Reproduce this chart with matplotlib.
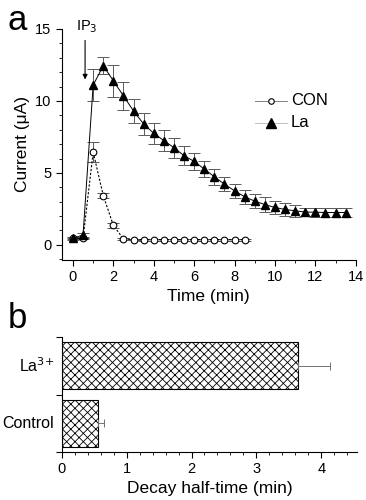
import numpy as np
import matplotlib.pyplot as plt
from matplotlib.ticker import MultipleLocator

plt.rcParams['font.family'] = ['Liberation Sans', 'DejaVu Sans']
plt.rcParams['hatch.linewidth'] = 0.6

# --- panel a: current traces ---
time_la = [0, 0.5, 1, 1.5, 2, 2.5, 3, 3.5, 4, 4.5, 5, 5.5, 6, 6.5, 7, 7.5,
           8, 8.5, 9, 9.5, 10, 10.5, 11, 11.5, 12, 12.5, 13, 13.5]
current_la = [0.45, 0.7, 11.1, 12.45, 11.4, 10.35, 9.3, 8.4, 7.75, 7.25, 6.75,
              6.2, 5.8, 5.27, 4.73, 4.22, 3.76, 3.34, 3.04, 2.8, 2.6, 2.46,
              2.37, 2.28, 2.27, 2.25, 2.25, 2.25]
err_la = [0.1, 0.15, 1.1, 0.6, 1.1, 1.0, 0.85, 0.75, 0.75, 0.7, 0.7, 0.65,
          0.6, 0.55, 0.55, 0.5, 0.5, 0.5, 0.5, 0.5, 0.45, 0.45, 0.4, 0.3,
          0.3, 0.3, 0.3, 0.3]

time_con = [0, 0.5, 1, 1.5, 2, 2.5, 3, 3.5, 4, 4.5, 5, 5.5, 6, 6.5, 7, 7.5,
            8, 8.5]
current_con = [0.45, 0.45, 6.45, 3.43, 1.35, 0.42, 0.37, 0.36, 0.36, 0.36,
               0.36, 0.36, 0.36, 0.36, 0.36, 0.36, 0.36, 0.36]
err_con = [0.05, 0.05, 0.7, 0.2, 0.15, 0.08, 0.06, 0.06, 0.06, 0.06, 0.06,
           0.06, 0.06, 0.06, 0.06, 0.06, 0.06, 0.06]

# --- panel b: decay half-time ---
groups = ['Control', 'La$^{3{+}}$']
half_time = [0.56, 3.64]
half_err = [0.09, 0.5]

fig = plt.figure(figsize=(3.66, 5.0), dpi=100)
ax1 = fig.add_axes([0.169, 0.48, 0.803, 0.462])
ax2 = fig.add_axes([0.169, 0.096, 0.806, 0.23])

# panel a
ax1.errorbar(time_con, current_con, yerr=err_con, fmt='none', ecolor='0.35',
             elinewidth=0.7, capsize=4, capthick=0.7, zorder=2)
ax1.errorbar(time_la, current_la, yerr=err_la, fmt='none', ecolor='0.35',
             elinewidth=0.7, capsize=4, capthick=0.7, zorder=2)
ax1.plot(time_con, current_con, color='black', lw=0.8, ls=(0, (2, 1.5)),
         marker='o', ms=4.8, mfc='white', mec='black', mew=0.8, zorder=3)
ax1.plot(time_la, current_la, color='black', lw=0.7,
         marker='^', ms=6.2, mfc='black', mec='black', zorder=4)

# legend drawn by hand to match the reference style
ax1.plot([9.0, 10.6], [10.0, 10.0], color='0.5', lw=0.7)
ax1.plot([9.8], [10.0], marker='o', ms=4, mfc='white', mec='black', mew=0.8)
ax1.text(10.8, 10.0, 'CON', fontsize=12, va='center', ha='left')
ax1.plot([9.0, 10.6], [8.5, 8.5], color='0.75', lw=0.7)
ax1.plot([9.8], [8.5], marker='^', ms=6.5, mfc='black', mec='black')
ax1.text(10.8, 8.5, 'La', fontsize=12, va='center', ha='left')

ax1.annotate('', xy=(0.6, 11.3), xytext=(0.6, 14.4),
             arrowprops=dict(arrowstyle='-|>', color='black', lw=0.8,
                             mutation_scale=7))
ax1.text(0.7, 14.6, 'IP$_3$', fontsize=10.5, ha='center', va='bottom')

ax1.set_xlim(-0.55, 14)
ax1.set_ylim(-1.05, 15)
ax1.spines['top'].set_visible(False)
ax1.spines['right'].set_visible(False)
ax1.xaxis.set_major_locator(MultipleLocator(2))
ax1.xaxis.set_minor_locator(MultipleLocator(1))
ax1.yaxis.set_major_locator(MultipleLocator(5))
ax1.yaxis.set_minor_locator(MultipleLocator(1))
ax1.tick_params(which='major', length=4, width=0.8, labelsize=10.5)
ax1.tick_params(which='minor', length=2.5, width=0.6)
ax1.set_xlabel('Time (min)', fontsize=12.5, labelpad=3)
ax1.set_ylabel('Current (\u03bcA)', fontsize=12.5, labelpad=4)
fig.text(0.02, 0.94, 'a', fontsize=25)

# panel b
ypos = np.arange(len(groups))
ax2.barh(ypos, half_time, height=0.82, color='white', edgecolor='black',
         linewidth=0.8, hatch='xxxx')
ax2.errorbar(half_time, ypos, xerr=[[0] * len(half_err), half_err],
             fmt='none', ecolor='0.45', elinewidth=0.7, capsize=3,
             capthick=0.7)
ax2.set_xlim(0, 4.55)
ax2.set_ylim(-0.5, 1.5)
ax2.set_yticks([-0.5, 0.5, 1.5])
ax2.set_yticklabels([])
for y, g in zip(ypos, groups):
    ax2.text(-0.12, y, g, fontsize=11.5, ha='right', va='center')
ax2.spines['top'].set_visible(False)
ax2.spines['right'].set_visible(False)
ax2.xaxis.set_major_locator(MultipleLocator(1))
ax2.xaxis.set_minor_locator(MultipleLocator(0.2))
ax2.tick_params(which='major', length=4, width=0.8, labelsize=10.5)
ax2.tick_params(which='minor', length=2, width=0.6)
ax2.set_xlabel('Decay half-time (min)', fontsize=12.5, labelpad=3)
fig.text(0.02, 0.345, 'b', fontsize=25)

fig.savefig('out.png', dpi=100)
